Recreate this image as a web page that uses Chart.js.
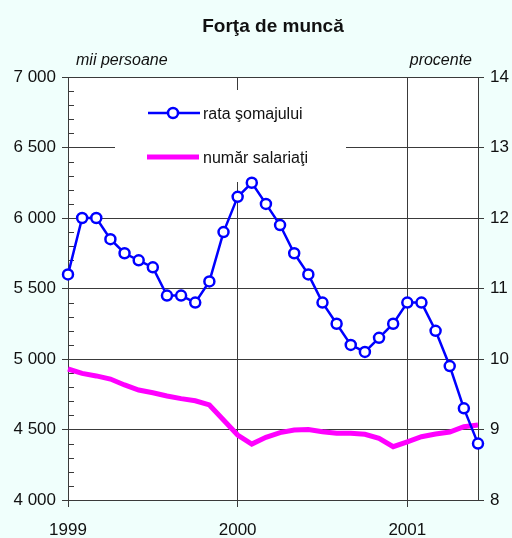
<!DOCTYPE html>
<html>
<head>
<meta charset="utf-8">
<script src="https://cdn.jsdelivr.net/npm/chart.js@4.4.1/dist/chart.umd.min.js"></script>
<style>
  html, body { margin: 0; padding: 0; background: #f0fffc; }
  #wrap { width: 512px; height: 538px; }
</style>
</head>
<body>
<div id="wrap"><canvas id="munca"></canvas></div>
<script>
// luni ian 1999 - iun 2001
var luni = [
    "1999-01", "1999-02", "1999-03", "1999-04", "1999-05", "1999-06",
    "1999-07", "1999-08", "1999-09", "1999-10", "1999-11", "1999-12",
    "2000-01", "2000-02", "2000-03", "2000-04", "2000-05", "2000-06",
    "2000-07", "2000-08", "2000-09", "2000-10", "2000-11", "2000-12",
    "2001-01", "2001-02", "2001-03", "2001-04", "2001-05", "2001-06"
];
// rata somajului, procente (axa dreapta)
var rataSomaj = [
    11.2, 12.0, 12.0, 11.7, 11.5, 11.4, 11.3, 10.9, 10.9, 10.8, 11.1, 11.8,
    12.3, 12.5, 12.2, 11.9, 11.5, 11.2, 10.8, 10.5, 10.2, 10.1, 10.3, 10.5,
    10.8, 10.8, 10.4, 9.9, 9.3, 8.8
];
// numar salariati, mii persoane (axa stanga)
var salariati = [
    4929, 4898, 4880, 4858, 4816, 4780, 4761, 4738, 4719, 4704, 4674, 4567,
    4461, 4397, 4445, 4478, 4496, 4500, 4484, 4473, 4473, 4466, 4438, 4378,
    4413, 4449, 4468, 4482, 4520, 4532
];
var etichetaAni = ["1999", "2000", "2001"];

var FONT = "'Liberation Sans', Arial, sans-serif";
var GRID = "#3a3a3a";

function isYearTick(i) {
    return i % 12 === 0;
}

// fundal + minor ticks + legenda + titluri
var extras = {
    id: 'extras',
    beforeDraw: function (chart) {
        var c = chart.ctx, a = chart.chartArea;
        c.save();
        c.fillStyle = '#f0fffc';
        c.fillRect(0, 0, chart.width, chart.height);
        c.fillStyle = '#ffffff';
        c.fillRect(a.left, a.top, a.right - a.left, a.bottom - a.top);
        c.restore();
    },
    beforeDatasetsDraw: function (chart) {
        var c = chart.ctx, a = chart.chartArea;
        var y = chart.scales.y;
        c.save();
        // minor ticks, inside
        c.strokeStyle = GRID;
        c.lineWidth = 1;
        for (var v = 4100; v < 7000; v += 100) {
            if (v % 500 === 0) continue;
            var py = Math.round(y.getPixelForValue(v)) + 0.5;
            c.beginPath();
            c.moveTo(a.left, py);
            c.lineTo(a.left + 6, py);
            c.stroke();
        }
        // legenda pe fond alb
        c.fillStyle = '#ffffff';
        c.fillRect(115, 90, 231, 92);
        c.strokeStyle = '#0000ff';
        c.lineWidth = 2.5;
        c.beginPath();
        c.moveTo(148, 113);
        c.lineTo(200, 113);
        c.stroke();
        c.beginPath();
        c.arc(173, 113, 5, 0, Math.PI * 2);
        c.fillStyle = '#ffffff';
        c.fill();
        c.stroke();
        c.strokeStyle = '#ff00ff';
        c.lineWidth = 5;
        c.beginPath();
        c.moveTo(147, 157);
        c.lineTo(199, 157);
        c.stroke();
        c.fillStyle = '#111111';
        c.font = '16px ' + FONT;
        c.textBaseline = 'middle';
        c.textAlign = 'left';
        c.fillText('rata şomajului', 203, 115);
        c.fillText('număr salariaţi', 203, 159);
        // titluri axe
        c.font = 'italic 16px ' + FONT;
        c.textBaseline = 'alphabetic';
        c.fillText('mii persoane', 76, 65);
        c.textAlign = 'right';
        c.fillText('procente', 472, 65);
        // titlu grafic, centrat pe zona graficului
        c.font = 'bold 19px ' + FONT;
        c.textAlign = 'center';
        c.textBaseline = 'middle';
        c.fillText('Forţa de muncă', (a.left + a.right) / 2, 27);
        c.restore();
    }
};

var config = {
    type: 'line',
    data: {
        labels: luni,
        datasets: [{
            label: 'rata şomajului',
            data: rataSomaj,
            yAxisID: 'y1',
            borderColor: '#0000ff',
            borderWidth: 2.5,
            pointRadius: 5,
            pointBorderWidth: 2.5,
            pointBackgroundColor: '#ffffff',
            pointBorderColor: '#0000ff',
            tension: 0
        }, {
            label: 'număr salariaţi',
            data: salariati,
            yAxisID: 'y',
            borderColor: '#ff00ff',
            borderWidth: 5,
            pointRadius: 0,
            tension: 0
        }]
    },
    options: {
        responsive: true,
        maintainAspectRatio: false,
        animation: false,
        layout: { padding: { left: 0, right: 0, top: 77, bottom: 0 } },
        plugins: {
            legend: { display: false },
            tooltip: { enabled: false },
            title: { display: false }
        },
        scales: {
            x: {
                offset: false,
                grid: {
                    color: function (ctx) { return isYearTick(ctx.index) ? GRID : 'rgba(0,0,0,0)'; },
                    tickColor: function (ctx) { return isYearTick(ctx.index) ? GRID : 'rgba(0,0,0,0)'; },
                    tickLength: 7
                },
                border: { display: true, color: GRID },
                ticks: {
                    autoSkip: false,
                    maxRotation: 0,
                    color: '#111111',
                    padding: 13,
                    font: { family: FONT, size: 17 },
                    callback: function (v, i) { return isYearTick(i) ? etichetaAni[i / 12] : ''; }
                },
                afterFit: function (s) { s.height = 38; }
            },
            y: {
                position: 'left',
                min: 4000,
                max: 7000,
                grid: { color: GRID, tickLength: 6 },
                border: { display: true, color: GRID },
                ticks: {
                    stepSize: 500,
                    color: '#111111',
                    padding: 6,
                    font: { family: FONT, size: 17 },
                    callback: function (v) { return String(v).replace(/(\d)(\d{3})$/, '$1 $2'); }
                },
                afterFit: function (s) { s.width = 68; }
            },
            y1: {
                position: 'right',
                min: 8,
                max: 14,
                grid: { drawOnChartArea: false, color: GRID, tickLength: 6 },
                border: { display: true, color: GRID },
                ticks: {
                    stepSize: 1,
                    color: '#111111',
                    padding: 6,
                    font: { family: FONT, size: 17 }
                },
                afterFit: function (s) { s.width = 34; }
            }
        }
    },
    plugins: [extras]
};

var ctx = document.getElementById("munca").getContext("2d");
new Chart(ctx, config);
</script>
</body>
</html>
